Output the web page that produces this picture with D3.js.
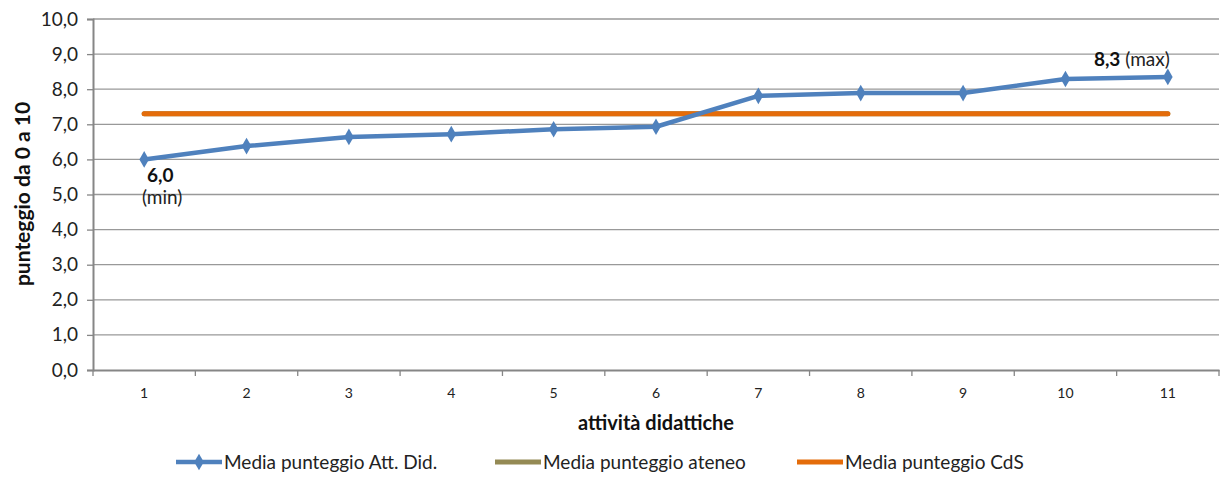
<!DOCTYPE html>
<html><head><meta charset="utf-8">
<script src="https://cdn.jsdelivr.net/npm/d3@7"></script>
<style>body{margin:0;background:#fff}svg{display:block}text{font-family:Lato,"Open Sans",sans-serif}</style>
</head><body><svg id="c" width="1224" height="487"></svg>
<script>
const categories = ["1","2","3","4","5","6","7","8","9","10","11"];
const attDid = [6.0,6.38,6.64,6.72,6.86,6.93,7.81,7.89,7.89,8.29,8.35];
const ateneo = [7.3,7.3,7.3,7.3,7.3,7.3,7.3,7.3,7.3,7.3,7.3];
const cds = [7.3,7.3,7.3,7.3,7.3,7.3,7.3,7.3,7.3,7.3,7.3];
const yTicks = [0,1,2,3,4,5,6,7,8,9,10];
const seriesNames = ["Media punteggio Att. Did.","Media punteggio ateneo","Media punteggio CdS"];
const colors = ["#4F81BD","#948A54","#E46C0A"];

const svg = d3.select("#c");
const L=93,R=1219,T=19,B=370;
const x = d3.scaleBand().domain(categories).range([L,R]);
const y = d3.scaleLinear().domain([0,10]).range([B,T]);
const fmt = v => d3.format(".1f")(v).replace(".",",");

// grid
svg.append("g").selectAll("line").data(yTicks.filter(d=>d>0)).join("line")
  .attr("x1",L).attr("x2",R).attr("y1",d=>y(d)).attr("y2",d=>y(d))
  .attr("stroke","#999").attr("stroke-width",1.3);

// y axis
const ya = svg.append("g").attr("transform",`translate(${L},0)`)
  .call(d3.axisLeft(y).tickValues(yTicks).tickFormat(fmt).tickSize(6).tickPadding(9));
ya.select(".domain").attr("stroke","#868686").attr("stroke-width",2);
ya.selectAll(".tick line").attr("stroke","#868686").attr("stroke-width",1.3);
ya.selectAll("text").attr("font-size",19).attr("fill","#222").style("font-family","Lato");

// x axis
const xa = svg.append("g").attr("transform",`translate(0,${B})`)
  .call(d3.axisBottom(x).tickSize(0).tickPadding(18));
xa.select(".domain").attr("stroke","#868686").attr("stroke-width",2);
xa.selectAll("text").attr("font-size",14).attr("fill","#222").style("font-family","Lato");
svg.append("g").selectAll("line").data(categories.concat(["end"])).join("line")
  .attr("x1",(d,i)=>L+i*x.bandwidth()).attr("x2",(d,i)=>L+i*x.bandwidth())
  .attr("y1",B).attr("y2",B+6).attr("stroke","#868686").attr("stroke-width",1.3);

const cx = c => x(c)+x.bandwidth()/2;
const line = d3.line().x((d,i)=>cx(categories[i])).y(d=>y(d));

svg.append("path").attr("d",line(ateneo)).attr("fill","none").attr("stroke",colors[1]).attr("stroke-width",5).attr("stroke-linecap","round");
svg.append("path").attr("d",line(cds)).attr("fill","none").attr("stroke",colors[2]).attr("stroke-width",5).attr("stroke-linecap","round");
svg.append("path").attr("d",line(attDid)).attr("fill","none").attr("stroke",colors[0]).attr("stroke-width",4.5).attr("stroke-linejoin","round");
const diamond = d3.symbol().type(d3.symbolDiamond).size(80);
svg.append("g").selectAll("path").data(attDid).join("path")
  .attr("d",diamond).attr("transform",(d,i)=>`translate(${cx(categories[i])},${y(d)})`)
  .attr("fill",colors[0]);

// annotations
const iMin = attDid.indexOf(d3.min(attDid)), iMax = attDid.indexOf(d3.max(attDid));
svg.append("text").attr("x",cx(categories[iMin])+16).attr("y",y(attDid[iMin])+23).attr("text-anchor","middle")
  .attr("font-size",19).attr("font-weight","bold").attr("fill","#111").text(fmt(attDid[iMin]));
svg.append("text").attr("x",cx(categories[iMin])+18).attr("y",y(attDid[iMin])+45).attr("text-anchor","middle")
  .attr("font-size",19).attr("fill","#222").text("(min)");
const mt = svg.append("text").attr("x",cx(categories[iMax])+2).attr("y",y(attDid[iMax])-11).attr("text-anchor","end")
  .attr("font-size",19).attr("fill","#222");
mt.append("tspan").attr("font-weight","bold").attr("fill","#111").text("8,3");
mt.append("tspan").text(" (max)");

// axis titles
svg.append("text").attr("transform","translate(30,194) rotate(-90)").attr("text-anchor","middle")
  .attr("font-size",21).attr("font-weight","bold").attr("fill","#111").text("punteggio da 0 a 10");
svg.append("text").attr("x",656).attr("y",430).attr("text-anchor","middle")
  .attr("font-size",20).attr("font-weight","bold").attr("fill","#111").text("attività didattiche");

// legend
const legX = [176,495,797];
const lg = svg.append("g").selectAll("g").data(seriesNames).join("g")
  .attr("transform",(d,i)=>`translate(${legX[i]},462)`);
lg.append("line").attr("x1",0).attr("x2",46).attr("y1",0).attr("y2",0)
  .attr("stroke",(d,i)=>colors[i]).attr("stroke-width",(d,i)=>i==0?4.5:5);
lg.filter((d,i)=>i==0).append("path").attr("d",diamond).attr("transform","translate(23,0)").attr("fill",colors[0]);
lg.append("text").attr("x",48).attr("y",6.5).attr("font-size",19).attr("fill","#222").text(d=>d);
</script></body></html>
